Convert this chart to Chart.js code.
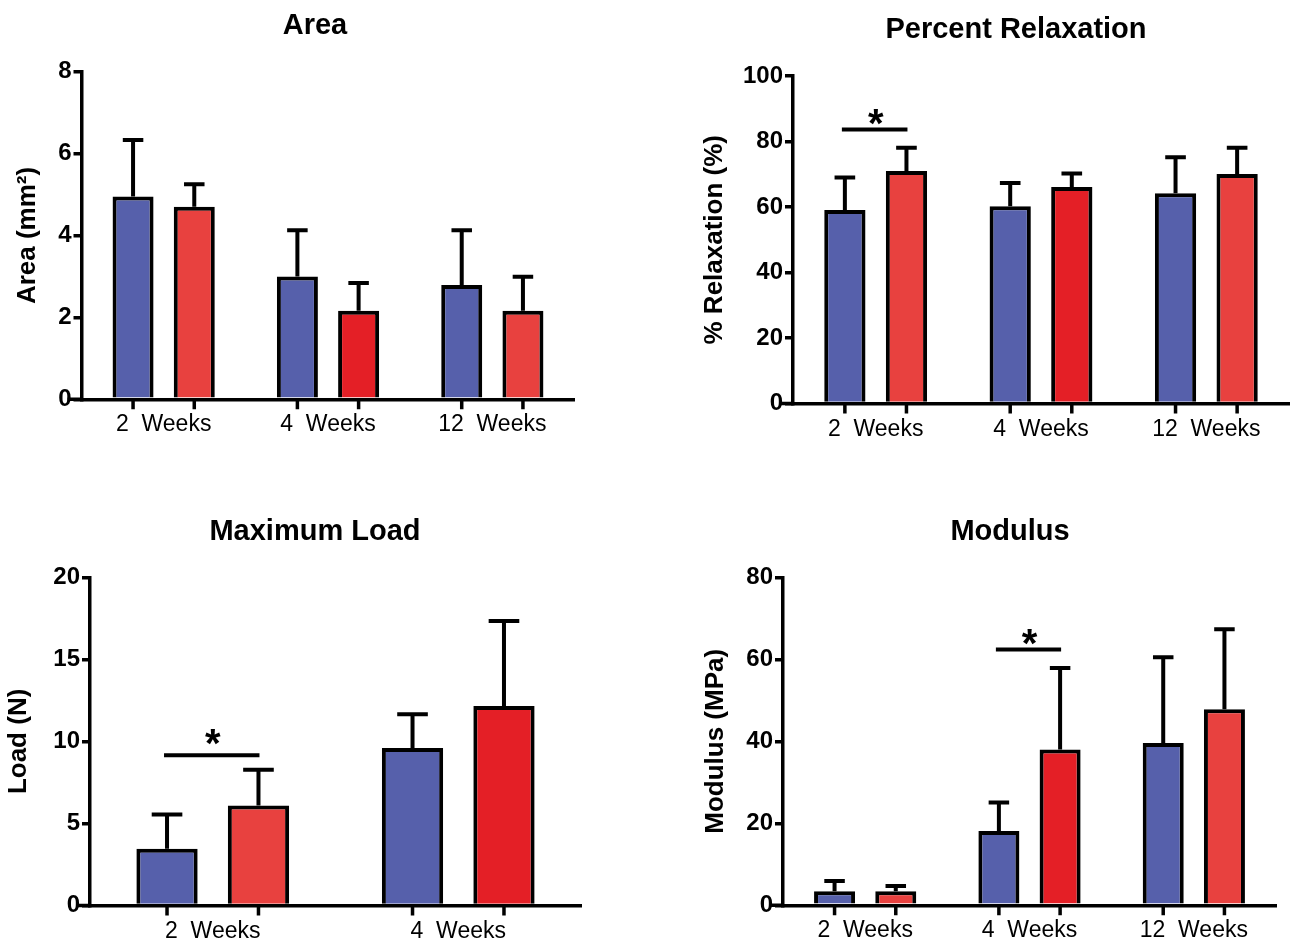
<!DOCTYPE html>
<html>
<head>
<meta charset="utf-8">
<script src="https://cdn.jsdelivr.net/npm/chart.js@4.4.1/dist/chart.umd.min.js"></script>
<style>
  body { margin: 0; background: #fff; }
  #wrap { position: relative; width: 1294px; height: 946px; }
  canvas { position: absolute; }
</style>
</head>
<body>
<div id="wrap">
  <canvas id="area" width="647" height="473" style="left:0;top:0"></canvas>
  <canvas id="relax" width="647" height="473" style="left:647px;top:0"></canvas>
  <canvas id="load" width="647" height="473" style="left:0;top:473px"></canvas>
  <canvas id="modulus" width="647" height="473" style="left:647px;top:473px"></canvas>
</div>
<script>
// categories
const weeks = ['2  Weeks', '4  Weeks', '12  Weeks'];
const loadWeeks = ['2  Weeks', '4  Weeks'];

// Area (mm2)
const areaBlue = [4.95, 3.0, 2.79];
const areaBlueSd = [1.38, 1.13, 1.34];
const areaRed = [4.70, 2.16, 2.16];
const areaRedSd = [0.55, 0.68, 0.83];

// Percent relaxation (%)
const relaxBlue = [59.1, 60.2, 64.2];
const relaxBlueSd = [9.9, 7.1, 11.0];
const relaxRed = [71.0, 66.1, 70.1];
const relaxRedSd = [7.1, 4.1, 8.0];
const relaxSig = { group: 0, line: 83.7, star: 85 };

// Maximum load (N)
const loadBlue = [3.46, 9.6];
const loadBlueSd = [2.09, 2.06];
const loadRed = [6.1, 12.15];
const loadRedSd = [2.18, 5.18];
const loadSig = { group: 0, line: 9.16, star: 9.8 };

// Modulus (MPa)
const modBlue = [3.4, 18.1, 39.6];
const modBlueSd = [2.5, 7.0, 20.9];
const modRed = [3.4, 38.0, 47.8];
const modRedSd = [1.3, 19.9, 19.5];
const modSig = { group: 1, line: 62.4, star: 63.5 };

const blue = '#5660AB';
const redLight = '#E8413F';
const redDark = '#E41F26';
const FONT = "'Liberation Sans', Arial, Helvetica, sans-serif";

Chart.defaults.font.family = FONT;
Chart.defaults.color = '#000';

// error bars, significance bars, tick marks under bars, panel title
const decor = {
  id: 'decor',
  afterDatasetsDraw(chart, args, opts) {
    const { ctx, scales: { y } } = chart;
    ctx.save();
    ctx.strokeStyle = '#000';
    ctx.lineWidth = 4;
    chart.data.datasets.forEach((ds, di) => {
      chart.getDatasetMeta(di).data.forEach((bar, i) => {
        const top = y.getPixelForValue(ds.data[i] + ds.sd[i]);
        const half = bar.width / 4;
        ctx.beginPath();
        ctx.moveTo(bar.x, bar.y);
        ctx.lineTo(bar.x, top);
        ctx.moveTo(bar.x - half, top);
        ctx.lineTo(bar.x + half, top);
        ctx.stroke();
      });
    });
    if (opts.sig) {
      const b0 = chart.getDatasetMeta(0).data[opts.sig.group];
      const b1 = chart.getDatasetMeta(1).data[opts.sig.group];
      const ly = y.getPixelForValue(opts.sig.line);
      ctx.lineWidth = 4;
      ctx.beginPath();
      ctx.moveTo(b0.x - 3, ly);
      ctx.lineTo(b1.x + 1, ly);
      ctx.stroke();
      ctx.font = 'bold 40px ' + FONT;
      ctx.fillStyle = '#000';
      ctx.textAlign = 'center';
      ctx.textBaseline = 'alphabetic';
      const m = ctx.measureText('*');
      const sy = y.getPixelForValue(opts.sig.star);
      ctx.fillText('*', (b0.x + b1.x) / 2, sy - m.actualBoundingBoxDescent);
    }
    ctx.restore();
  },
  afterDraw(chart, args, opts) {
    const { ctx, chartArea: a } = chart;
    ctx.save();
    ctx.strokeStyle = '#000';
    ctx.lineWidth = 3.5;
    ctx.beginPath();
    ctx.moveTo(a.left - 14, a.bottom);
    ctx.lineTo(a.left, a.bottom);
    chart.data.datasets.forEach((ds, di) => {
      chart.getDatasetMeta(di).data.forEach(bar => {
        ctx.moveTo(bar.x, a.bottom);
        ctx.lineTo(bar.x, a.bottom + 10);
      });
    });
    ctx.stroke();
    ctx.font = 'bold 29px ' + FONT;
    ctx.fillStyle = '#000';
    ctx.textAlign = 'center';
    ctx.textBaseline = 'alphabetic';
    ctx.fillText(opts.title, opts.tx, opts.ty + 0.358 * 29);
    ctx.restore();
  }
};

function panel(id, p) {
  return new Chart(document.getElementById(id), {
    type: 'bar',
    data: {
      labels: p.labels,
      datasets: [
        { data: p.blue, sd: p.blueSd, backgroundColor: blue },
        { data: p.red, sd: p.redSd, backgroundColor: p.redColors }
      ]
    },
    options: {
      responsive: false,
      animation: false,
      layout: { padding: p.pad },
      datasets: {
        bar: {
          categoryPercentage: 0.745,
          barPercentage: 0.67,
          borderColor: '#000',
          borderWidth: 4
        }
      },
      plugins: {
        legend: { display: false },
        tooltip: { enabled: false },
        decor: { title: p.title, tx: p.tx, ty: p.ty, sig: p.sig }
      },
      scales: {
        x: {
          grid: { display: false, drawTicks: false },
          border: { display: true, color: '#000', width: 3.5 },
          ticks: { font: { size: 23 }, color: '#000', padding: 12, maxRotation: 0, autoSkip: false },
          afterFit(s) { s.height = 40; }
        },
        y: {
          min: 0,
          max: p.max,
          ticks: { stepSize: p.step, font: { size: 24, weight: 'bold' }, color: '#000', padding: 2 },
          grid: { drawOnChartArea: false, color: '#000', lineWidth: 3.5, tickLength: 8 },
          border: { display: true, color: '#000', width: 3.5 },
          title: {
            display: true,
            text: p.yTitle,
            font: { size: 26, weight: 'bold' },
            color: '#000',
            padding: { top: p.yTitlePad, bottom: 0 }
          },
          afterFit(s) { s.width = p.yWidth; }
        }
      }
    },
    plugins: [decor]
  });
}

panel('area', {
  labels: weeks, blue: areaBlue, blueSd: areaBlueSd, red: areaRed, redSd: areaRedSd,
  redColors: [redLight, redDark, redLight],
  max: 8, step: 2, yTitle: 'Area (mm²)',
  title: 'Area', tx: 315, ty: 24,
  pad: { left: 0, right: 72.5, top: 71.7, bottom: 33.7 }, yWidth: 81.5, yTitlePad: 12
});

panel('relax', {
  labels: weeks, blue: relaxBlue, blueSd: relaxBlueSd, red: relaxRed, redSd: relaxRedSd,
  redColors: [redLight, redDark, redLight],
  max: 100, step: 20, yTitle: '% Relaxation (%)',
  title: 'Percent Relaxation', tx: 369, ty: 28,
  pad: { left: 0, right: 5, top: 76, bottom: 29.5 }, yWidth: 146, yTitlePad: 52,
  sig: relaxSig
});

panel('load', {
  labels: loadWeeks, blue: loadBlue, blueSd: loadBlueSd, red: loadRed, redSd: loadRedSd,
  redColors: [redLight, redDark],
  max: 20, step: 5, yTitle: 'Load (N)',
  title: 'Maximum Load', tx: 315, ty: 57,
  pad: { left: 0, right: 66, top: 104.3, bottom: 0.5 }, yWidth: 90, yTitlePad: 3,
  sig: loadSig
});

panel('modulus', {
  labels: weeks, blue: modBlue, blueSd: modBlueSd, red: modRed, redSd: modRedSd,
  redColors: [redLight, redDark, redLight],
  max: 80, step: 20, yTitle: 'Modulus (MPa)',
  title: 'Modulus', tx: 363, ty: 57,
  pad: { left: 0, right: 18, top: 104.3, bottom: 0.7 }, yWidth: 136, yTitlePad: 53,
  sig: modSig
});
</script>
</body>
</html>
